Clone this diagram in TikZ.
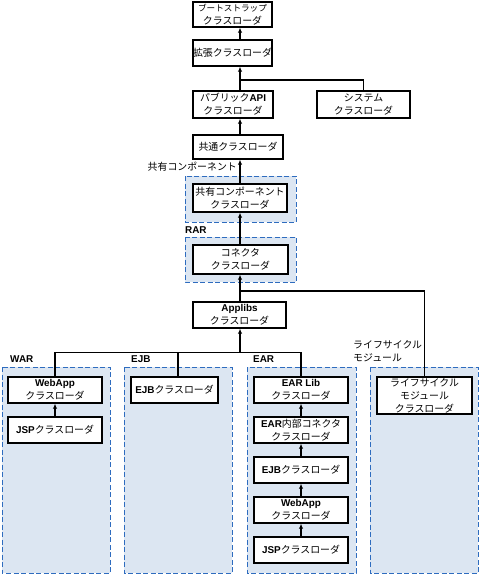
\documentclass[tikz,border=0pt]{standalone}
\usepackage{fontspec}
\setmainfont{Noto Sans CJK JP}
\newfontfamily\latb{Liberation Sans}
\newcommand\B[1]{{\latb\bfseries #1}}
\usetikzlibrary{arrows.meta}
\definecolor{grpfill}{HTML}{DCE6F2}
\definecolor{grpline}{HTML}{2E6CBF}
\newcommand\bx[6]{\node[box,minimum width={(#3-#2)*1pt},minimum height={(#5-#4)*1pt}] (#1) at ({(#2+#3)/2},{(#4+#5)/2}) {#6};}
\newcommand\grp[4]{\path[grp] (#1,#3) rectangle (#2,#4);}
\begin{document}
\begin{tikzpicture}[x=1pt,y=-1pt,
  font=\fontsize{9.9}{13}\selectfont,
  box/.style={draw=black, line width=1.4pt, fill=white, inner sep=0pt, align=center},
  grp/.style={draw=grpline, fill=grpfill, line width=0.9pt, dash pattern=on 5pt off 2.5pt},
  arr/.style={line width=1.2pt, -{Latex[length=5pt,width=4.5pt]}},
  ln/.style={line width=1.2pt},
  lbl/.style={inner sep=0pt, anchor=west}]
\useasboundingbox (0,0) rectangle (480,575);
% groups
\grp{185}{296}{176}{222}
\grp{185}{296}{237}{282}
\grp{2}{110}{367}{573}
\grp{124}{232}{367}{573}
\grp{247}{356}{367}{573}
\grp{370}{478}{367}{573}
% boxes
\bx{boot}{193}{272}{2}{27}{{\fontsize{8.6}{13}\selectfont ブートストラップ}\\クラスローダ}
\bx{ext}{193}{272}{40}{66}{拡張クラスローダ}
\bx{pub}{193}{273}{91}{118}{パブリック\B{API}\\クラスローダ}
\bx{sys}{317}{410}{91}{118}{システム\\クラスローダ}
\bx{common}{193}{283}{135}{159}{共通クラスローダ}
\bx{shared}{193}{287}{184}{212}{共有コンポーネント\\クラスローダ}
\bx{conn}{193}{288}{245}{274}{コネクタ\\クラスローダ}
\bx{applibs}{193}{286}{302}{328}{\B{Applibs}\\クラスローダ}
\bx{warweb}{8}{102}{377}{403}{\B{WebApp}\\クラスローダ}
\bx{warjsp}{8}{102}{417}{443}{\B{JSP}クラスローダ}
\bx{ejbcl}{131}{218}{377}{403}{\B{EJB}クラスローダ}
\bx{earlib}{254}{348}{377}{403}{\B{EAR Lib}\\クラスローダ}
\bx{earconn}{254}{348}{417}{443}{\B{EAR}内部コネクタ\\クラスローダ}
\bx{earejb}{254}{348}{457}{483}{\B{EJB}クラスローダ}
\bx{earweb}{254}{348}{497}{523}{\B{WebApp}\\クラスローダ}
\bx{earjsp}{254}{348}{537}{563}{\B{JSP}クラスローダ}
\bx{lc}{377}{472}{377}{414}{ライフサイクル\\モジュール\\クラスローダ}
% labels
\node[lbl, anchor=east] (sharedlbl) at (237,167) {共有コンポーネント};
\node[lbl] (rarlbl) at (185,230) {\B{RAR}};
\node[lbl] (warlbl) at (10,359) {\B{WAR}};
\node[lbl] (ejblbl) at (131,359) {\B{EJB}};
\node[lbl] (earlbl) at (253,359) {\B{EAR}};
\node[lbl, align=left] (lclbl) at (353,351) {ライフサイクル\\モジュール};
% connectors
\coordinate (spine) at (240,0);
\coordinate (ejbx) at (178,0);
\coordinate (topbus) at (240,80);
\coordinate (lcbus) at (240,291);
\coordinate (bus) at (240,352.5);
\draw[arr] (ext.north -| spine) -- (boot.south -| spine);
\draw[arr] (pub.north -| spine) -- (ext.south -| spine);
\draw[ln] (sys.north) |- (topbus);
\draw[arr] (common.north -| spine) -- (pub.south -| spine);
\draw[arr] (shared.north -| spine) -- (common.south -| spine);
\draw[arr] (conn.north -| spine) -- (shared.south -| spine);
\draw[arr] (applibs.north -| spine) -- (conn.south -| spine);
\draw[ln] (lc.north) |- (lcbus);
\draw[ln] (warweb.north) |- (bus) -| (earlib.north);
\draw[ln] (ejbcl.north -| ejbx) -- (bus -| ejbx);
\draw[arr] (bus) -- (applibs.south -| spine);
\draw[arr] (warjsp.north) -- (warweb.south);
\draw[arr] (earconn.north) -- (earlib.south);
\draw[arr] (earejb.north) -- (earconn.south);
\draw[arr] (earweb.north) -- (earejb.south);
\draw[arr] (earjsp.north) -- (earweb.south);
\end{tikzpicture}
\end{document}
